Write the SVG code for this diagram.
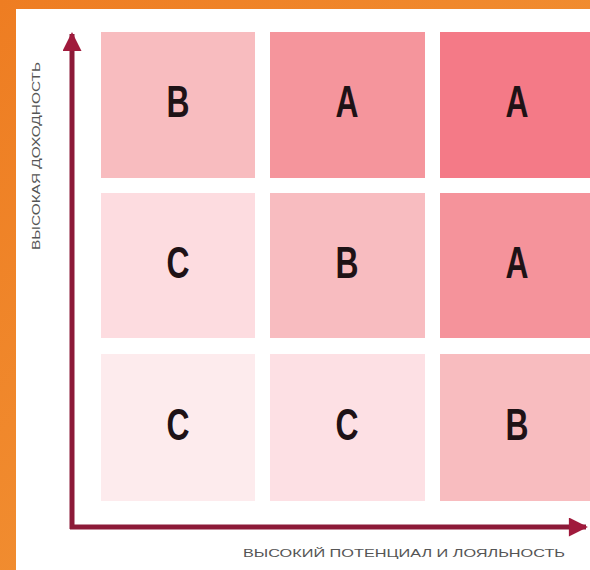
<svg xmlns="http://www.w3.org/2000/svg" width="590" height="570" viewBox="0 0 590 570">
<defs>
<style>
.cell{stroke:none}
.lbl{font-family:"Liberation Sans",Arial,sans-serif;font-weight:bold;font-size:44px;fill:#1e1216;text-anchor:middle}
.ax{font-family:"Liberation Sans",Arial,sans-serif;font-size:11.5px;fill:#555}
.axis{stroke:#8c1a38;stroke-width:5;fill:none}
</style>
<marker id="ah" viewBox="0 0 10 10" refX="9" refY="5" markerWidth="5.6" markerHeight="3.8" orient="auto" markerUnits="strokeWidth">
<path d="M0,0 L10,5 L0,10 z" fill="#a01a3c"/>
</marker>
<linearGradient id="bg" x1="0" y1="0" x2="1" y2="1">
<stop offset="0" stop-color="#ee7d22"/>
<stop offset="1" stop-color="#f39a3c"/>
</linearGradient>
</defs>
<rect width="590" height="570" fill="url(#bg)"/>
<rect x="16" y="9" width="574" height="561" fill="#ffffff"/>
<g id="cell-1-1"><rect class="cell" x="101" y="32" width="154" height="146" fill="#f8bcbf"/><text class="lbl" x="178" y="117" textLength="23" lengthAdjust="spacingAndGlyphs">B</text></g>
<g id="cell-1-2"><rect class="cell" x="270" y="32" width="155" height="146" fill="#f5959c"/><text class="lbl" x="347" y="117" textLength="23" lengthAdjust="spacingAndGlyphs">A</text></g>
<g id="cell-1-3"><rect class="cell" x="440" y="32" width="150" height="146" fill="#f47a87"/><text class="lbl" x="517" y="117" textLength="23" lengthAdjust="spacingAndGlyphs">A</text></g>
<g id="cell-2-1"><rect class="cell" x="101" y="193" width="154" height="145" fill="#fddce0"/><text class="lbl" x="178" y="278" textLength="23" lengthAdjust="spacingAndGlyphs">C</text></g>
<g id="cell-2-2"><rect class="cell" x="270" y="193" width="155" height="145" fill="#f8bcc0"/><text class="lbl" x="347" y="278" textLength="23" lengthAdjust="spacingAndGlyphs">B</text></g>
<g id="cell-2-3"><rect class="cell" x="440" y="193" width="150" height="145" fill="#f5939b"/><text class="lbl" x="517" y="278" textLength="23" lengthAdjust="spacingAndGlyphs">A</text></g>
<g id="cell-3-1"><rect class="cell" x="101" y="354" width="154" height="147" fill="#fdebed"/><text class="lbl" x="178" y="440" textLength="23" lengthAdjust="spacingAndGlyphs">C</text></g>
<g id="cell-3-2"><rect class="cell" x="270" y="354" width="155" height="147" fill="#fde0e4"/><text class="lbl" x="347" y="440" textLength="23" lengthAdjust="spacingAndGlyphs">C</text></g>
<g id="cell-3-3"><rect class="cell" x="440" y="354" width="150" height="147" fill="#f8bcbf"/><text class="lbl" x="517" y="440" textLength="23" lengthAdjust="spacingAndGlyphs">B</text></g>
<g id="connectors">
<path class="axis" d="M72,529 L72,34" marker-end="url(#ah)"/>
<path class="axis" d="M70,527 L586,527" marker-end="url(#ah)"/>
</g>
<g id="axis-labels">
<text class="ax" transform="translate(40,250) rotate(-90)" textLength="188" lengthAdjust="spacingAndGlyphs">ВЫСОКАЯ ДОХОДНОСТЬ</text>
<text class="ax" x="243" y="557" textLength="322" lengthAdjust="spacingAndGlyphs">ВЫСОКИЙ ПОТЕНЦИАЛ И ЛОЯЛЬНОСТЬ</text>
</g>
</svg>
